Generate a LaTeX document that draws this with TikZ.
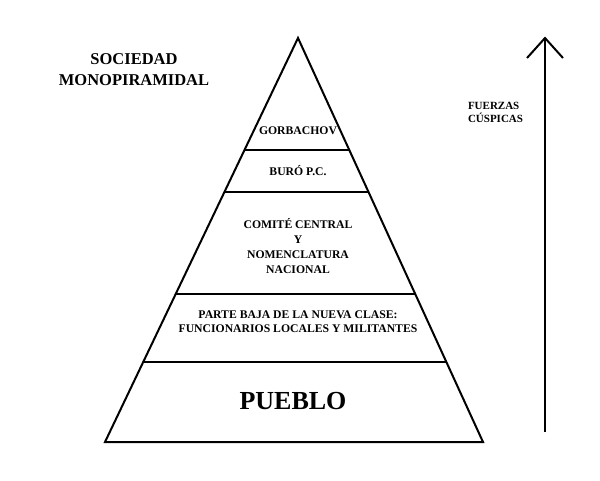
\documentclass[tikz,border=0pt]{standalone}
\usepackage{fontspec}
\setmainfont{Liberation Serif}
\usetikzlibrary{calc}
\begin{document}
\begin{tikzpicture}[x=1pt,y=-1pt,line width=2pt,
  lbl/.style={font=\bfseries\fontsize{11.7}{13}\selectfont,align=center,inner sep=0pt}]
\useasboundingbox (0,0) rectangle (600,480);
\coordinate (A) at (298,38);
\coordinate (L) at (105,442);
\coordinate (R) at (483,442);
\draw (A) -- (L) -- (R) -- cycle;
\foreach \y/\n in {150/a,192/b,294/c,362/d}{
  \pgfmathsetmacro\t{(\y-38)/404}
  \draw ($(A)!\t!(L)$) -- ($(A)!\t!(R)$);
}
\node[lbl] (g) at (298,131) {GORBACHOV};
\node[lbl] (b) at (298,171) {BURÓ P.C.};
\node[lbl,font=\bfseries\fontsize{11.7}{15}\selectfont] (c) at (298,246) {COMITÉ CENTRAL\\Y\\NOMENCLATURA\\NACIONAL};
\node[lbl,font=\bfseries\fontsize{11.7}{14}\selectfont] (p) at (298,322) {PARTE BAJA DE LA NUEVA CLASE:\\FUNCIONARIOS LOCALES Y MILITANTES};
\node[lbl,font=\bfseries\fontsize{26}{30}\selectfont] (u) at (293,401) {PUEBLO};
\node[lbl,font=\bfseries\fontsize{16.5}{21}\selectfont] (s) at (134,70) {SOCIEDAD\\MONOPIRAMIDAL};
\node[lbl,font=\bfseries\fontsize{11}{13}\selectfont,align=left,anchor=west] (f) at (467,112) {FUERZAS\\CÚSPICAS};
\coordinate (t0) at (545,432);
\coordinate (t1) at (545,38);
\draw (t0) -- (t1);
\draw (527,58) -- (t1) -- (563,58);
\end{tikzpicture}
\end{document}
